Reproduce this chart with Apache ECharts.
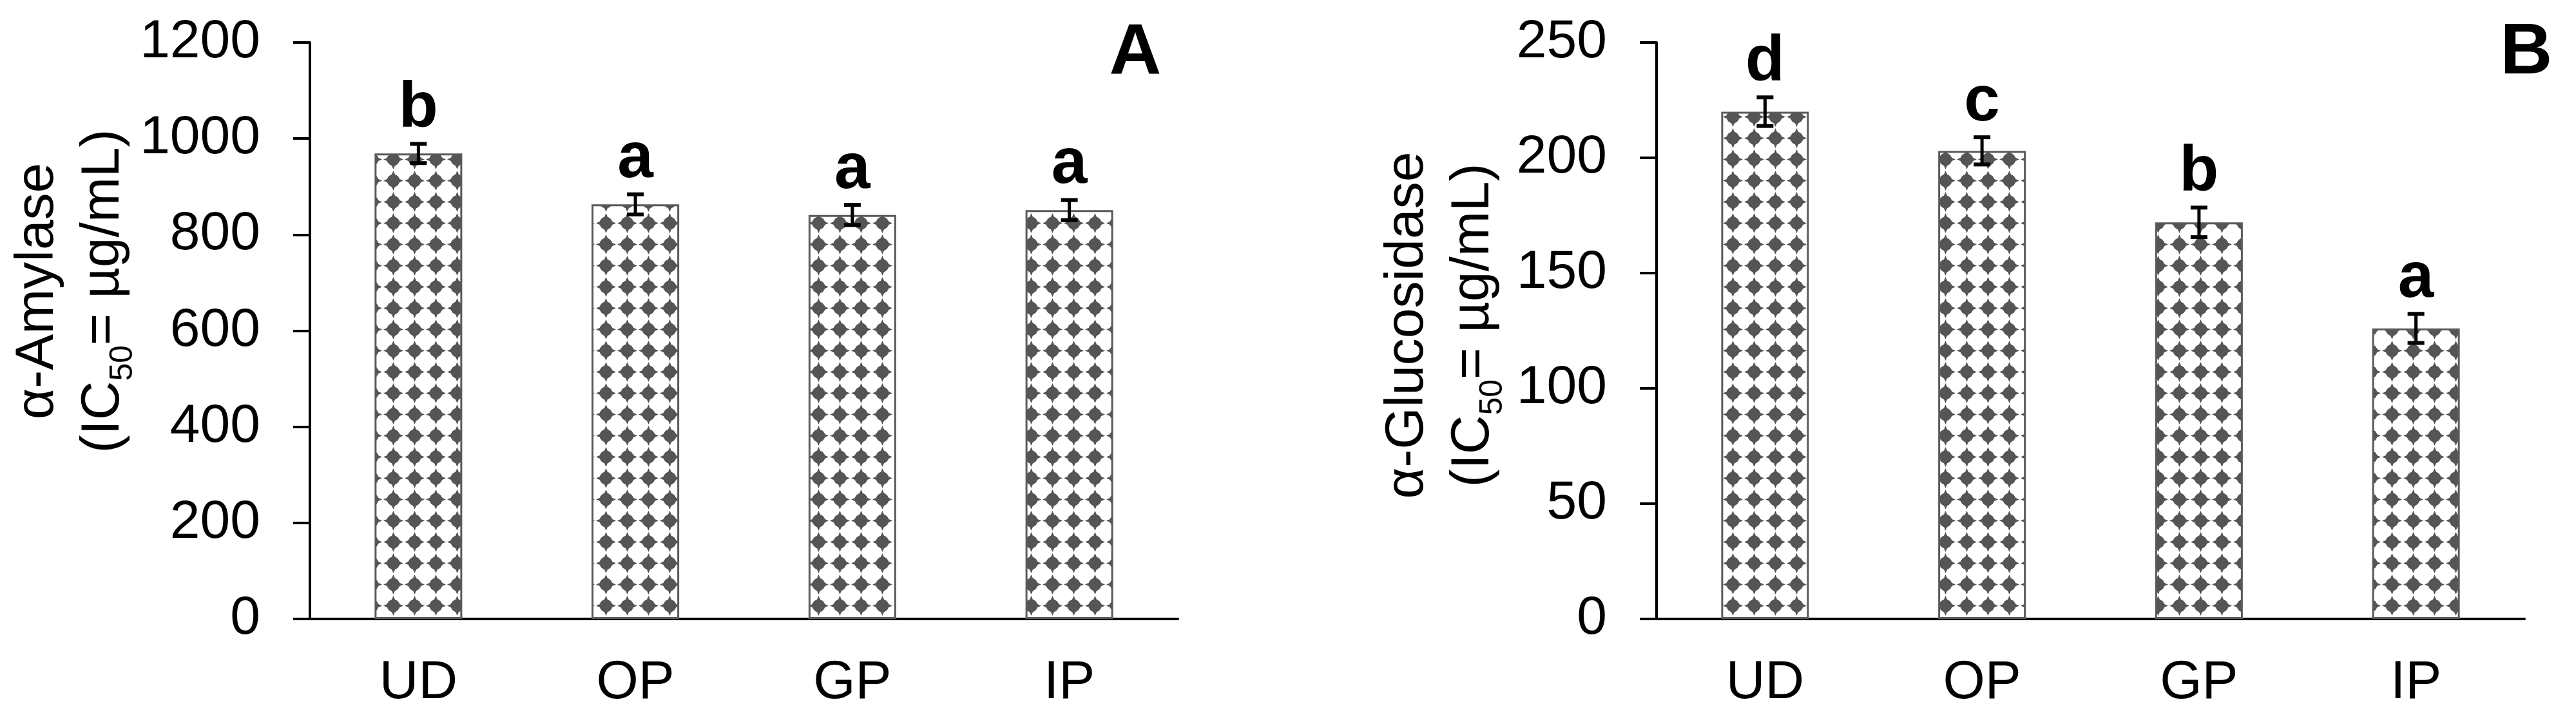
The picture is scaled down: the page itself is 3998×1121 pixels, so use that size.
<!DOCTYPE html>
<html><head><meta charset="utf-8">
<script src="https://cdn.jsdelivr.net/npm/echarts@6/dist/echarts.min.js"></script>
<style>html,body{margin:0;padding:0;background:#fff}#c{width:3998px;height:1121px}</style>
</head><body><div id="c"></div>
<script>
// ---- data ----
const categories = ['UD', 'OP', 'GP', 'IP'];
const amylaseValues = [969, 863, 841, 851];
const amylaseErrors = [20, 21, 21, 21];
const amylaseLetters = ['b', 'a', 'a', 'a'];
const glucosidaseValues = [220, 203, 172, 126];
const glucosidaseErrors = [6.2, 5.9, 6.4, 6.3];
const glucosidaseLetters = ['d', 'c', 'b', 'a'];
const amylaseAxis = { min: 0, max: 1200, interval: 200 };
const glucosidaseAxis = { min: 0, max: 250, interval: 50 };
const panelLabels = ['A', 'B'];

const FONT = '"Liberation Sans", Arial, sans-serif';

function makePattern() {
  const s = 33, c = document.createElement('canvas');
  c.width = s; c.height = s;
  const g = c.getContext('2d');
  g.fillStyle = '#fff'; g.fillRect(0, 0, s, s);
  g.fillStyle = '#555555';
  const cx = s / 2, cy = s / 2;
  g.beginPath(); g.arc(cx, cy, 10, 0, Math.PI * 2); g.fill();
  g.beginPath();
  [[0, -1], [1, 0], [0, 1], [-1, 0]].forEach(([dx, dy]) => {
    const px = -dy, py = dx;
    g.moveTo(cx + dx * 8 + px * 3.2, cy + dy * 8 + py * 3.2);
    g.lineTo(cx + dx * 15.5, cy + dy * 15.5);
    g.lineTo(cx + dx * 8 - px * 3.2, cy + dy * 8 - py * 3.2);
    g.closePath();
  });
  g.fill();
  return c;
}
const pattern = makePattern();

function errSeries(idx, values, errors, letters) {
  return {
    type: 'custom', xAxisIndex: idx, yAxisIndex: idx, z: 10,
    data: values.map((v, i) => [i, v, errors[i]]),
    renderItem(params, api) {
      const x = api.value(0), v = api.value(1), e = api.value(2);
      const top = api.coord([x, v + e]), bot = api.coord([x, v - e]);
      const cap = 26;
      return {
        type: 'group', children: [
          { type: 'line', shape: { x1: top[0], y1: top[1], x2: bot[0], y2: bot[1] }, style: { stroke: '#000', lineWidth: 5 } },
          { type: 'line', shape: { x1: top[0] - cap / 2, y1: top[1], x2: top[0] + cap / 2, y2: top[1] }, style: { stroke: '#000', lineWidth: 6 } },
          { type: 'line', shape: { x1: bot[0] - cap / 2, y1: bot[1], x2: bot[0] + cap / 2, y2: bot[1] }, style: { stroke: '#000', lineWidth: 6 } },
          { type: 'text', x: top[0], y: top[1] - 4, style: { text: letters[params.dataIndex], font: 'bold 100px ' + FONT, fill: '#000', align: 'center', verticalAlign: 'bottom' } }
        ]
      };
    }
  };
}

function yAxisCfg(ax) {
  return {
    type: 'value', min: ax.min, max: ax.max, interval: ax.interval,
    axisLine: { show: true, lineStyle: { color: '#000', width: 4 } },
    axisTick: { show: true, length: 26, lineStyle: { color: '#000', width: 4 } },
    splitLine: { show: false },
    axisLabel: { fontSize: 84, color: '#000', fontFamily: FONT, margin: 77, formatter: v => String(v) }
  };
}
function xAxisCfg(idx) {
  return {
    type: 'category', gridIndex: idx, data: categories,
    axisLine: { show: true, lineStyle: { color: '#000', width: 4 } },
    axisTick: { show: false },
    axisLabel: { fontSize: 84, color: '#000', fontFamily: FONT, margin: 58 }
  };
}
function barSeries(idx, values) {
  return {
    type: 'bar', xAxisIndex: idx, yAxisIndex: idx, data: values, barWidth: 136,
    itemStyle: { color: { image: pattern, repeat: 'repeat' }, borderColor: '#5a5a5a', borderWidth: 3 }
  };
}

const titleRich = {
  n: { fontSize: 84, fontFamily: FONT, lineHeight: 102, color: '#000' },
  s: { fontSize: 50, fontFamily: FONT, lineHeight: 50, padding: [60, 0, 0, 0], color: '#000' }
};

const chart = echarts.init(document.getElementById('c'), null, { renderer: 'canvas' });
chart.setOption({
  backgroundColor: '#fff',
  animation: false,
  grid: [
    { left: 481, top: 66, width: 1347, height: 895 },
    { left: 2571, top: 66, width: 1347, height: 895 }
  ],
  xAxis: [xAxisCfg(0), xAxisCfg(1)],
  yAxis: [Object.assign({ gridIndex: 0 }, yAxisCfg(amylaseAxis)), Object.assign({ gridIndex: 1 }, yAxisCfg(glucosidaseAxis))],
  series: [
    barSeries(0, amylaseValues), errSeries(0, amylaseValues, amylaseErrors, amylaseLetters),
    barSeries(1, glucosidaseValues), errSeries(1, glucosidaseValues, glucosidaseErrors, glucosidaseLetters)
  ],
  graphic: [
    { type: 'text', x: 110, y: 452, rotation: Math.PI / 2, style: { text: '{n|α-Amylase}\n{n|(IC}{s|50}{n|= µg/mL)}', rich: titleRich, align: 'center', verticalAlign: 'middle' } },
    { type: 'text', x: 2236, y: 505, rotation: Math.PI / 2, style: { text: '{n|α-Glucosidase}\n{n|(IC}{s|50}{n|= µg/mL)}', rich: titleRich, align: 'center', verticalAlign: 'middle' } },
    { type: 'text', x: 1762, y: 84, style: { text: panelLabels[0], font: 'bold 112px ' + FONT, fill: '#000', align: 'center', verticalAlign: 'middle' } },
    { type: 'text', x: 3921, y: 83, style: { text: panelLabels[1], font: 'bold 112px ' + FONT, fill: '#000', align: 'center', verticalAlign: 'middle' } }
  ]
});
</script></body></html>
